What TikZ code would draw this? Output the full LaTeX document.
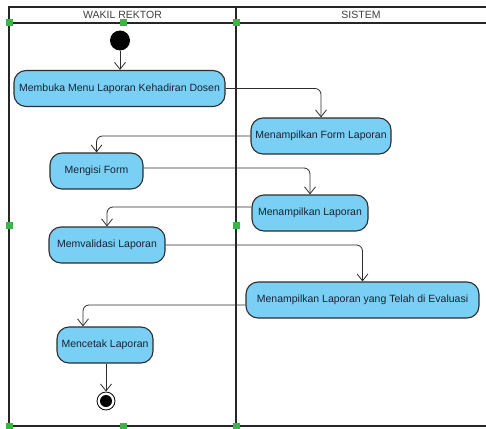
\documentclass[tikz,border=0pt]{standalone}
\usepackage{fontspec}
\setmainfont{Liberation Sans}
\usetikzlibrary{arrows.meta}
\definecolor{actfill}{RGB}{122,207,245}
\definecolor{actdraw}{RGB}{45,45,45}
\definecolor{handle}{RGB}{60,180,70}
\definecolor{txt}{RGB}{25,35,50}
\begin{document}
\begin{tikzpicture}[x=1pt,y=-1pt,
  act/.style={draw=actdraw,fill=actfill,line width=1.1pt,rounded corners=12pt,
    minimum height=36pt,inner sep=0pt,text=txt,font=\fontsize{10.5}{12}\selectfont},
  flow/.style={draw=actdraw,line width=0.8pt,rounded corners=6pt,
    -{Straight Barb[length=7pt,width=11pt,line width=0.8pt]}},
  lane/.style={draw=black!85,line width=1.6pt},
  hdl/.style={fill=handle,draw=none,minimum size=7pt,inner sep=0pt},
  hdr/.style={text=black!75,font=\fontsize{10.5}{12}\selectfont}]
\useasboundingbox (0,0) rectangle (486,428);
% swimlanes
\draw[lane] (486,7) -- (9,7) -- (9,426) -- (486,426);
\draw[lane] (9,23) -- (486,23);
\draw[lane] (236,7) -- (236,426);
\node[hdr] (h1) at (122.5,15) {WAKIL REKTOR};
\node[hdr] (h2) at (361,15) {SISTEM};
% handles
\foreach \p/\n in {{(9,23)}/a,{(123,23)}/b,{(236,23)}/c,{(9,225)}/d,{(236,225)}/e,{(9,426)}/f,{(123,426)}/g,{(236,426)}/h}
  \node[hdl] (hd\n) at \p {};
% start / end
\node[circle,fill=black,minimum size=20pt,inner sep=0pt] (start) at (120,40.5) {};
\node[act,minimum width=211pt] (n1) at (119.5,88.5) {Membuka Menu Laporan Kehadiran Dosen};
\node[act,minimum width=140pt] (n2) at (321,136) {Menampilkan Form Laporan};
\node[act,minimum width=93pt] (n3) at (96.5,171) {Mengisi Form};
\node[act,minimum width=116pt] (n4) at (310,213) {Menampilkan Laporan};
\node[act,minimum width=116pt] (n5) at (107,245) {Memvalidasi Laporan};
\node[act,minimum width=233pt] (n6) at (362.5,300) {Menampilkan Laporan yang Telah di Evaluasi};
\node[act,minimum width=96pt] (n7) at (105,345) {Mencetak Laporan};
\node[circle,draw=black,line width=0.8pt,fill=white,minimum size=18pt,inner sep=0pt] (end) at (106,401) {};
\node[circle,fill=black,minimum size=12pt,inner sep=0pt] (endin) at (end) {};
% flows
\draw[flow] (start) -- (start |- n1.north);
\draw[flow] (n1.east) -| (n2.north);
\draw[flow] (n2.west) -| (n3.north);
\draw[flow] ([yshift=3pt]n3.east) -| (n4.north);
\draw[flow] ([yshift=6pt]n4.west) -| (n5.north);
\draw[flow] (n5.east) -| (n6.north);
\draw[flow] ([yshift=-5pt]n6.west) -| ([xshift=-22pt]n7.north);
\draw[flow] (n7.south -| end) -- (end.north);
\end{tikzpicture}
\end{document}
